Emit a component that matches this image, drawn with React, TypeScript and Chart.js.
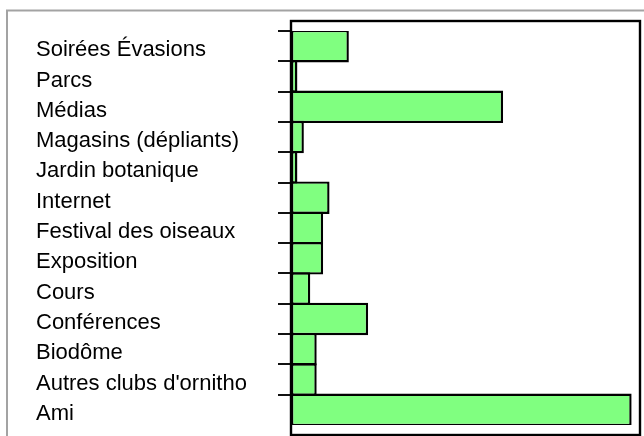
import React, { useEffect, useRef } from "react";
import { Chart, registerables } from "chart.js";

Chart.register(...registerables);

const categories = [
  "Soirées Évasions",
  "Parcs",
  "Médias",
  "Magasins (dépliants)",
  "Jardin botanique",
  "Internet",
  "Festival des oiseaux",
  "Exposition",
  "Cours",
  "Conférences",
  "Biodôme",
  "Autres clubs d'ornitho",
  "Ami",
];
const counts = [9, 1, 33, 2, 1, 6, 5, 5, 3, 12, 4, 4, 53];
const xMin = 0;
const xMax = 54.3;

const FONT = "'Liberation Sans', Arial, sans-serif";

const framePlugin = {
  id: "frames",
  beforeDraw(chart: any) {
    const ctx = chart.ctx;
    ctx.save();
    ctx.strokeStyle = "#a3a3a3";
    ctx.lineWidth = 2;
    ctx.beginPath();
    ctx.moveTo(7, chart.height);
    ctx.lineTo(7, 10.5);
    ctx.lineTo(chart.width, 10.5);
    ctx.stroke();
    ctx.restore();
  },
  afterDatasetsDraw(chart: any) {
    const { left, right, top, bottom } = chart.chartArea;
    const ctx = chart.ctx;
    ctx.save();
    ctx.strokeStyle = "#000";
    ctx.lineWidth = 2.4;
    ctx.strokeRect(left, top - 10, right - left, bottom - top + 20);
    ctx.restore();
  },
};

export default function App() {
  const ref = useRef<HTMLCanvasElement | null>(null);

  useEffect(() => {
    if (!ref.current) return;
    const chart = new Chart(ref.current, {
      type: "bar",
      data: {
        labels: categories,
        datasets: [
          {
            data: counts,
            backgroundColor: "#80ff80",
            borderColor: "#000000",
            borderWidth: 2.4,
            borderSkipped: false,
            barPercentage: 1.075,
            categoryPercentage: 1,
          },
        ],
      },
      options: {
        indexAxis: "y",
        animation: false,
        responsive: false,
        devicePixelRatio: 1,
        layout: { padding: { left: 36, right: 4, top: 31, bottom: 11 } },
        plugins: {
          legend: { display: false },
          tooltip: { enabled: false },
        },
        scales: {
          x: {
            display: false,
            min: xMin,
            max: xMax,
          },
          y: {
            type: "category",
            offset: true,
            afterFit: (axis: any) => {
              axis.width = 255;
              axis.paddingTop = 0;
              axis.paddingBottom = 0;
            },
            border: { display: false },
            grid: {
              offset: true,
              drawOnChartArea: false,
              drawTicks: true,
              tickLength: 13,
              lineWidth: 2,
              color: (ctx: any) =>
                ctx.type === "tick" && ctx.index < categories.length
                  ? "#111111"
                  : "rgba(0,0,0,0)",
            },
            ticks: {
              crossAlign: "far",
              labelOffset: 4,
              color: "#000000",
              font: { family: FONT, size: 22 },
              autoSkip: false,
            },
          },
        },
      },
      plugins: [framePlugin],
    } as any);
    return () => chart.destroy();
  }, []);

  return (
    <div
      style={{
        position: "fixed",
        left: 0,
        top: 0,
        width: 644,
        height: 436,
        background: "#ffffff",
      }}
    >
      <canvas ref={ref} width={644} height={436} style={{ width: 644, height: 436, display: "block" }} />
    </div>
  );
}
